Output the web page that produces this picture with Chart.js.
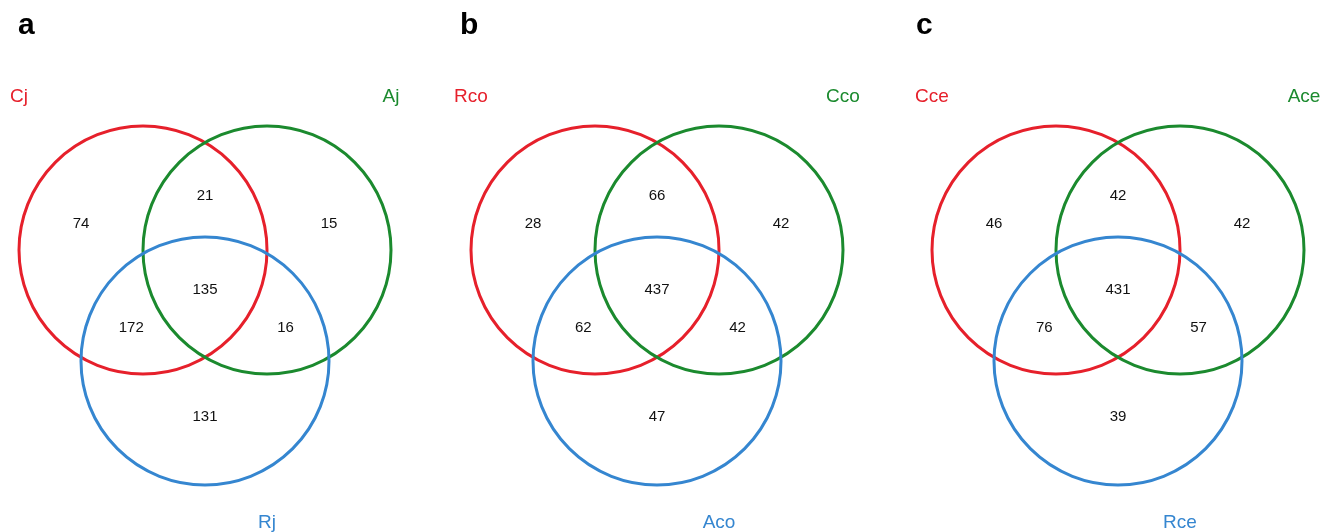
<!DOCTYPE html>
<html>
<head>
<meta charset="utf-8">
<script src="https://cdn.jsdelivr.net/npm/chart.js@4.4.1/dist/chart.umd.min.js"></script>
<style>
  body { margin: 0; background: #fff; }
  #wrap { position: relative; width: 1336px; height: 532px; overflow: hidden; }
  #wrap canvas { position: absolute; top: 0; }
</style>
</head>
<body>
<div id="wrap">
  <canvas id="vennA" width="452" height="532" style="left:0px"></canvas>
  <canvas id="vennB" width="461" height="532" style="left:452px"></canvas>
  <canvas id="vennC" width="423" height="532" style="left:913px"></canvas>
</div>
<script>
// panel letters and set names
const panelLetters = ['a', 'b', 'c'];
const setNamesA = ['Cj', 'Aj', 'Rj'];
const setNamesB = ['Rco', 'Cco', 'Aco'];
const setNamesC = ['Cce', 'Ace', 'Rce'];

// region counts: only1, 1&2, only2, 1&2&3, 1&3, 2&3, only3
const countsA = [74, 21, 15, 135, 172, 16, 131];
const countsB = [28, 66, 42, 437, 62, 42, 47];
const countsC = [46, 42, 42, 431, 76, 57, 39];

// layout of the diagram in circle-radius units (first circle at 0,0)
const circleCenters = [[0, 0], [1, 0], [0.5, -0.895]];
const regionAnchors = [[-0.5, 0.21], [0.5, 0.435], [1.5, 0.21], [0.5, -0.323], [-0.095, -0.63], [1.15, -0.63], [0.5, -1.347]];
const nameAnchors = [[-1, 1.194], [2, 1.194], [1, -2.238]];
const colors = ['#e6202b', '#1b8a2e', '#3586d0'];

const UNIT = 124;      // px per unit
const ORIGIN_X = 143;  // px of first circle centre inside each canvas
const ORIGIN_Y = 250;

// circles: radius taken from the x scale, one unit = one circle radius
const vennCircles = {
  id: 'vennCircles',
  afterDatasetsDraw(chart) {
    const ctx = chart.ctx;
    const xs = chart.scales.x;
    const ys = chart.scales.y;
    const r = Math.abs(xs.getPixelForValue(1) - xs.getPixelForValue(0));
    ctx.save();
    ctx.lineWidth = 3;
    chart.data.datasets.forEach((ds, i) => {
      const p = ds.data[0];
      ctx.strokeStyle = ds.borderColor;
      ctx.beginPath();
      ctx.arc(xs.getPixelForValue(p.x), ys.getPixelForValue(p.y), r, 0, Math.PI * 2);
      ctx.stroke();
    });
    ctx.restore();
  }
};

const vennText = {
  id: 'vennText',
  afterDatasetsDraw(chart, args, opts) {
    const ctx = chart.ctx;
    const xs = chart.scales.x;
    const ys = chart.scales.y;
    ctx.save();
    ctx.fillStyle = '#000';
    ctx.font = 'bold 30px "Liberation Sans", Arial, sans-serif';
    ctx.textAlign = 'left';
    ctx.textBaseline = 'alphabetic';
    ctx.fillText(opts.letter, opts.letterX, 34);

    ctx.font = '19px "Liberation Sans", Arial, sans-serif';
    ctx.textAlign = 'center';
    opts.names.forEach((n, i) => {
      ctx.fillStyle = colors[i];
      ctx.fillText(n, xs.getPixelForValue(nameAnchors[i][0]), ys.getPixelForValue(nameAnchors[i][1]));
    });

    ctx.font = '15px "Liberation Sans", Arial, sans-serif';
    ctx.fillStyle = '#111';
    ctx.textBaseline = 'middle';
    opts.counts.forEach((c, i) => {
      ctx.fillText(String(c), xs.getPixelForValue(regionAnchors[i][0]), ys.getPixelForValue(regionAnchors[i][1]));
    });
    ctx.restore();
  }
};

const createVenn = (id, letter, letterX, names, counts) => {
  const canvas = document.getElementById(id);
  const w = canvas.width, h = canvas.height;
  return new Chart(canvas.getContext('2d'), {
    type: 'scatter',
    data: {
      datasets: circleCenters.map((c, i) => ({
        label: names[i],
        data: [{ x: c[0], y: c[1] }],
        borderColor: colors[i],
        backgroundColor: colors[i],
        pointRadius: 0,
        clip: false
      }))
    },
    options: {
      responsive: false,
      animation: false,
      events: [],
      layout: { padding: 0, autoPadding: false },
      scales: {
        x: { type: 'linear', display: false, min: -ORIGIN_X / UNIT, max: (w - ORIGIN_X) / UNIT },
        y: { type: 'linear', display: false, min: -(h - ORIGIN_Y) / UNIT, max: ORIGIN_Y / UNIT }
      },
      plugins: {
        legend: { display: false },
        tooltip: { enabled: false },
        vennText: { letter: letter, letterX: letterX, names: names, counts: counts }
      }
    },
    plugins: [vennCircles, vennText]
  });
};

createVenn('vennA', panelLetters[0], 18, setNamesA, countsA);
createVenn('vennB', panelLetters[1], 8, setNamesB, countsB);
createVenn('vennC', panelLetters[2], 3, setNamesC, countsC);
</script>
</body>
</html>
